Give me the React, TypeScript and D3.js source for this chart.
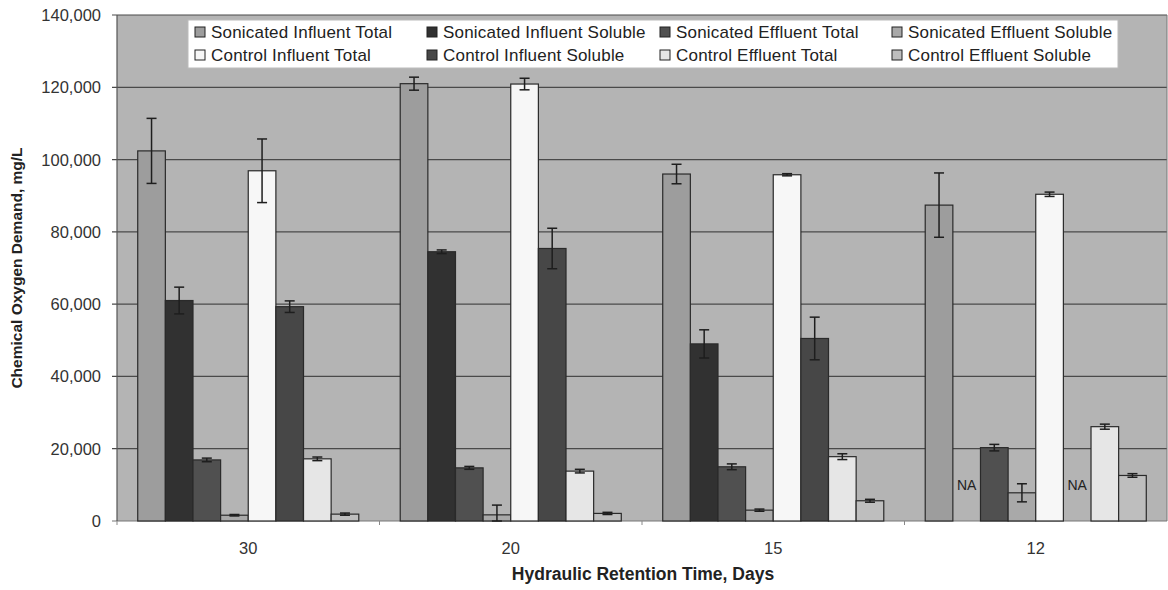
import React from "react";
import * as d3 from "d3";

// Hydraulic retention time groups (days)
const categories = ["30", "20", "15", "12"];

const seriesNames = [
  "Sonicated Influent Total",
  "Sonicated Influent Soluble",
  "Sonicated Effluent Total",
  "Sonicated Effluent Soluble",
  "Control Influent Total",
  "Control Influent Soluble",
  "Control Effluent Total",
  "Control Effluent Soluble",
];

// COD means (mg/L); null = not analysed (NA)
const sonicatedInfluentTotal = [102400, 121000, 96000, 87400];
const sonicatedInfluentSoluble = [61000, 74500, 49000, null];
const sonicatedEffluentTotal = [16900, 14700, 15000, 20300];
const sonicatedEffluentSoluble = [1600, 1700, 3000, 7800];
const controlInfluentTotal = [96900, 120900, 95800, 90400];
const controlInfluentSoluble = [59300, 75400, 50500, null];
const controlEffluentTotal = [17200, 13800, 17800, 26100];
const controlEffluentSoluble = [1900, 2100, 5600, 12600];

// Standard deviations (mg/L)
const sonicatedInfluentTotalErr = [9000, 1800, 2700, 8900];
const sonicatedInfluentSolubleErr = [3700, 500, 3900, 0];
const sonicatedEffluentTotalErr = [500, 400, 800, 900];
const sonicatedEffluentSolubleErr = [200, 2700, 300, 2500];
const controlInfluentTotalErr = [8800, 1600, 300, 600];
const controlInfluentSolubleErr = [1600, 5600, 5900, 0];
const controlEffluentTotalErr = [500, 500, 800, 700];
const controlEffluentSolubleErr = [300, 300, 400, 500];

const yTicks = [0, 20000, 40000, 60000, 80000, 100000, 120000, 140000];
const NA_LABEL_LEVEL = 10000;

const seriesValues = [
  sonicatedInfluentTotal,
  sonicatedInfluentSoluble,
  sonicatedEffluentTotal,
  sonicatedEffluentSoluble,
  controlInfluentTotal,
  controlInfluentSoluble,
  controlEffluentTotal,
  controlEffluentSoluble,
];
const seriesErrors = [
  sonicatedInfluentTotalErr,
  sonicatedInfluentSolubleErr,
  sonicatedEffluentTotalErr,
  sonicatedEffluentSolubleErr,
  controlInfluentTotalErr,
  controlInfluentSolubleErr,
  controlEffluentTotalErr,
  controlEffluentSolubleErr,
];
const seriesColors = [
  "#9d9d9d",
  "#313131",
  "#505050",
  "#a9a9a9",
  "#f7f7f7",
  "#474747",
  "#e6e6e6",
  "#bebebe",
];

const W = 1168;
const H = 590;
const M = { left: 117, right: 1, top: 15, bottom: 69 };
const FONT = "'Liberation Sans', Arial, Helvetica, sans-serif";

export default function App() {
  const x0 = d3
    .scaleBand<string>()
    .domain(categories)
    .range([M.left, W - M.right]);
  // bars fill each band with a 150% gap split on both sides
  const barW = x0.bandwidth() / (seriesNames.length + 1.5);
  const barOffset = barW * 0.75;
  const y = d3
    .scaleLinear()
    .domain([0, 140000])
    .range([H - M.bottom, M.top]);
  const fmt = d3.format(",");
  const plotL = M.left;
  const plotR = W - M.right;
  const plotT = M.top;
  const plotB = H - M.bottom;

  const legendCols = [195, 427, 660, 892];
  const legendRows = [32, 55];

  return (
    <svg
      width={W}
      height={H}
      style={{ position: "absolute", left: 0, top: 0, background: "#fff" }}
      fontFamily={FONT}
    >
      <rect x={plotL} y={plotT} width={plotR - plotL} height={plotB - plotT} fill="#b4b4b4" />
      {yTicks.map((t) => (
        <g key={t}>
          <line x1={plotL - 5} x2={plotR} y1={y(t)} y2={y(t)} stroke={t === 0 ? "#777" : "#4a4a4a"} strokeWidth={1.2} />
          <text x={101} y={y(t)} dy="0.36em" textAnchor="end" fontSize={16.5} fill="#333">
            {fmt(t)}
          </text>
        </g>
      ))}
      <line x1={plotL} x2={plotL} y1={plotT} y2={plotB} stroke="#555" strokeWidth={1.2} />
      <line x1={plotR} x2={plotR} y1={plotT} y2={plotB} stroke="#777" strokeWidth={1} />
      {categories.map((c) => (
        <line key={"tk" + c} x1={x0(c)!} x2={x0(c)!} y1={plotB} y2={plotB + 4} stroke="#888" />
      ))}

      {categories.map((c, ci) => (
        <g key={c}>
          {seriesValues.map((vals, si) => {
            const v = vals[ci];
            const bx = x0(c)! + barOffset + si * barW;
            if (v === null) {
              return (
                <text
                  key={si}
                  x={bx + barW / 2}
                  y={y(NA_LABEL_LEVEL)}
                  dy="0.36em"
                  textAnchor="middle"
                  fontSize={14}
                  fill="#222"
                >
                  NA
                </text>
              );
            }
            const e = seriesErrors[si][ci];
            const cx = bx + barW / 2;
            return (
              <g key={si}>
                <rect
                  x={bx}
                  y={y(v)}
                  width={barW}
                  height={plotB - y(v)}
                  fill={seriesColors[si]}
                  stroke="#2a2a2a"
                  strokeWidth={1.2}
                />
                {e > 0 && (
                  <g stroke="#1e1e1e" strokeWidth={1.5}>
                    <line x1={cx} x2={cx} y1={y(v + e)} y2={y(Math.max(0, v - e))} />
                    <line x1={cx - 5} x2={cx + 5} y1={y(v + e)} y2={y(v + e)} />
                    <line x1={cx - 5} x2={cx + 5} y1={y(Math.max(0, v - e))} y2={y(Math.max(0, v - e))} />
                  </g>
                )}
              </g>
            );
          })}
          <text x={x0(c)! + x0.bandwidth() / 2} y={554} textAnchor="middle" fontSize={16.5} fill="#333">
            {c}
          </text>
        </g>
      ))}

      {/* legend */}
      <rect x={188} y={20} width={930} height={48} fill="#fff" stroke="#bbb" strokeWidth={1} />
      {seriesNames.map((name, i) => {
        const col = i % 4;
        const row = Math.floor(i / 4);
        const lx = legendCols[col];
        const ly = legendRows[row];
        return (
          <g key={name}>
            <rect x={lx} y={ly - 5} width={10} height={10} fill={seriesColors[i]} stroke="#222" strokeWidth={1} />
            <text x={lx + 16} y={ly} dy="0.36em" fontSize={17} letterSpacing={0.2} fill="#222">
              {name}
            </text>
          </g>
        );
      })}

      <text
        transform={`translate(22,${(plotT + plotB) / 2}) rotate(-90)`}
        textAnchor="middle"
        fontSize={15.5}
        fontWeight="bold"
        fill="#222"
      >
        Chemical Oxygen Demand, mg/L
      </text>
      <text x={643} y={580} textAnchor="middle" fontSize={17.5} fontWeight="bold" fill="#222">
        Hydraulic Retention Time, Days
      </text>
    </svg>
  );
}
